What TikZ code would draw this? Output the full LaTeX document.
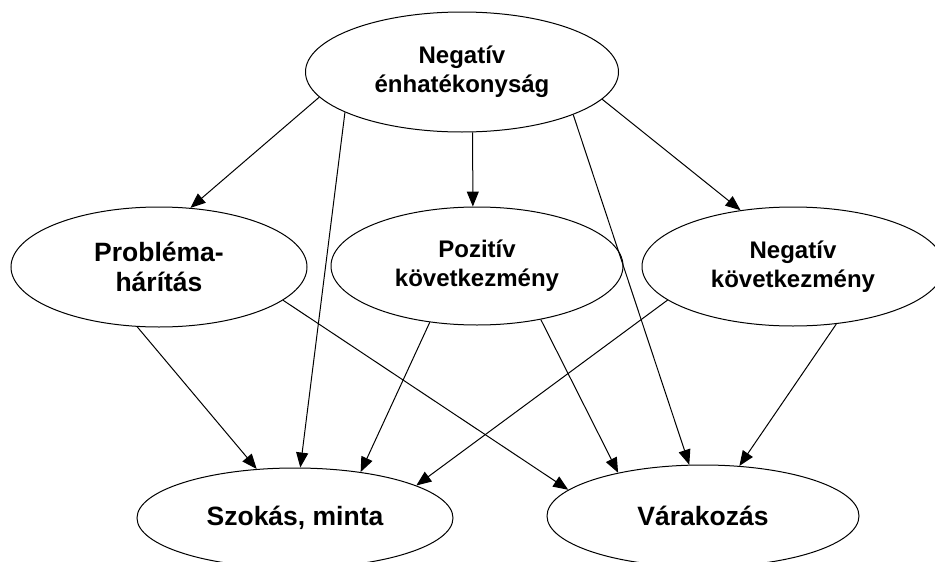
\documentclass[tikz,border=0pt]{standalone}
\usepackage{fontspec}
\setmainfont{Liberation Sans}
\usetikzlibrary{shapes.geometric,arrows.meta}
\tikzset{
  oval/.style={draw, ellipse, inner sep=0pt, align=center, line width=1pt,
    font=\bfseries\fontsize{24}{29}\selectfont},
  big/.style={font=\bfseries\fontsize{26.5}{30}\selectfont},
  arr/.style={-{Triangle[length=15pt,width=12pt]}, line width=1pt}
}
\begin{document}
\begin{tikzpicture}[x=1pt,y=-1pt]
\useasboundingbox (0,0) rectangle (935,562);
\clip (0,0) rectangle (935,562);
\node[oval, minimum width=313, minimum height=120] (neg) at (462,72) {Negatív\\énhatékonyság};
\node[oval, big, minimum width=296, minimum height=120] (prob) at (159,267) {Probléma-\\hárítás};
\node[oval, minimum width=292, minimum height=118] (poz) at (477,266) {Pozitív\\következmény};
\node[oval, minimum width=302, minimum height=119] (negk) at (793,266.5) {Negatív\\következmény};
\node[oval, big, minimum width=316, minimum height=100] (szok) at (295,518) {Szokás, minta};
\node[oval, big, minimum width=312, minimum height=102] (var) at (703,516) {Várakozás};
\foreach \a/\b in {neg.190/prob.62, neg.199/szok.84, neg.280/poz.94, neg.339/var.105,
  neg.349/negk.133, prob.250/szok.128, prob.345/var.169, poz.230/szok.35,
  poz.320/var.153, negk.195/szok.15, negk.307/var.54}
  \draw[arr] (\a) -- (\b);
\end{tikzpicture}
\end{document}
